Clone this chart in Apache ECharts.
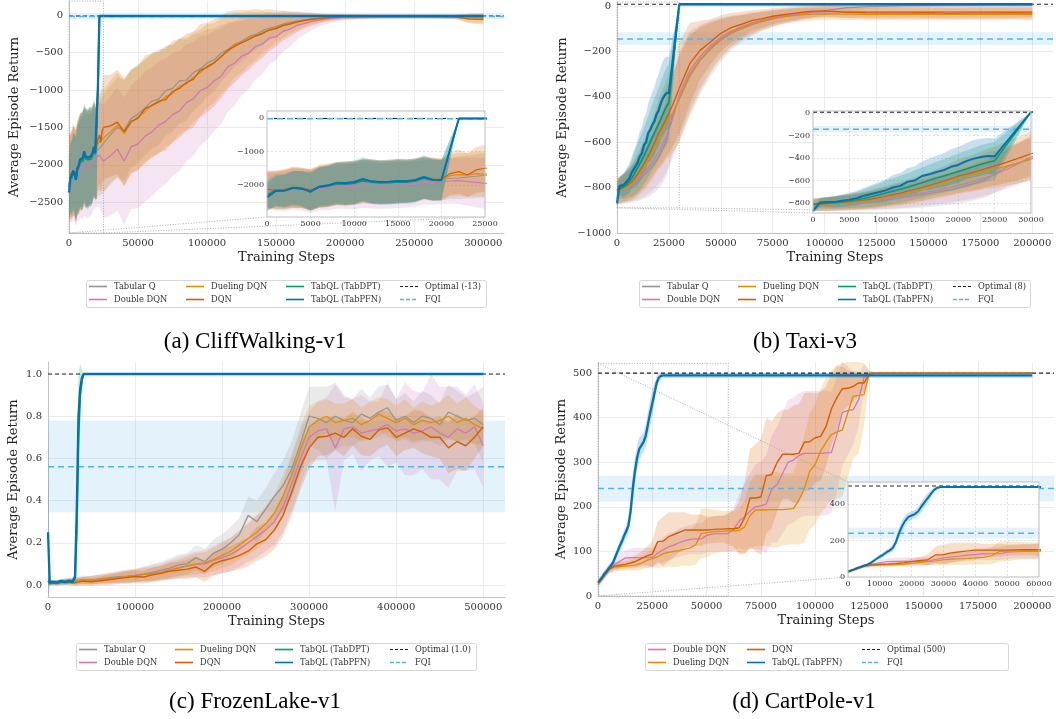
<!DOCTYPE html>
<html><head><meta charset="utf-8">
<script src="https://cdn.jsdelivr.net/npm/echarts@6.0.0/dist/echarts.min.js"></script>
<style>html,body{margin:0;padding:0;background:#fff}#c{width:1056px;height:719px}</style>
</head><body><div id="c"></div>
<script>
// ================= DATA =================
// ---- (a) CliffWalking-v1 ----
const A_X = [0,1000,2000,3000,4000,5000,6000,7000,8000,9000,10000,11000,12000,13000,14000,15000,16000,17000,18000,19000,20000,21000,22000,23000,24000,25000,30000,35000,40000,45000,50000,55000,60000,65000,70000,75000,80000,85000,90000,95000,100000,105000,110000,115000,120000,125000,130000,135000,140000,145000,150000,155000,160000,165000,170000,175000,180000,185000,190000,195000,200000,210000,220000,230000,240000,250000,260000,270000,280000,290000,300000];
const A_TABQ = [-2150,-2160,-2140,-2090,-2100,-2150,-2060,-2040,-1980,-1960,-1950,-1900,-1920,-1940,-1930,-1910,-1900,-1880,-1800,-1830,-1850,-1800,-1790,-1760,-1740,-1710,-1600,-1500,-1540,-1380,-1320,-1240,-1150,-1120,-1010,-980,-880,-870,-770,-720,-640,-600,-510,-460,-390,-350,-290,-260,-210,-180,-150,-120,-100,-80,-66,-52,-42,-35,-30,-26,-22,-20,-19,-20,-18,-20,-19,-20,-21,-20,-30];
const A_TABQ_SD = [520,540,560,580,590,600,610,620,630,640,640,650,650,640,650,640,640,630,620,620,610,620,630,640,650,660,660,670,680,660,650,640,630,620,600,580,560,540,510,480,450,420,380,340,300,270,240,210,180,150,130,110,90,75,60,50,42,36,32,28,25,22,20,20,19,20,21,20,22,40,50];
const A_DDQN = [-2160,-2180,-2170,-2120,-2140,-2180,-2100,-2090,-2050,-2040,-2040,-2000,-2010,-2030,-2020,-2000,-1990,-1970,-1920,-1920,-1900,-1880,-1870,-1900,-1920,-1950,-1880,-1790,-1950,-1760,-1720,-1620,-1560,-1470,-1420,-1330,-1280,-1170,-1120,-1010,-970,-880,-820,-690,-640,-550,-510,-420,-390,-310,-290,-220,-190,-140,-115,-88,-72,-55,-44,-34,-28,-22,-20,-21,-19,-20,-20,-21,-20,-25,-28];
const A_DDQN_SD = [560,580,600,620,620,640,650,660,660,670,680,680,690,680,690,680,680,670,660,670,660,680,700,720,740,760,800,820,850,830,860,870,860,850,840,820,800,780,760,730,700,670,640,600,560,520,480,440,400,350,310,270,230,190,150,120,95,75,60,48,40,32,28,26,25,25,24,25,26,35,40];
const A_DUEL = [-2140,-2150,-2120,-2080,-2090,-2160,-2050,-2020,-1960,-1950,-1940,-1880,-1900,-1920,-1910,-1890,-1880,-1860,-1780,-1820,-1840,-1720,-1690,-1700,-1660,-1680,-1560,-1470,-1580,-1430,-1360,-1290,-1200,-1170,-1090,-1050,-950,-920,-830,-770,-680,-640,-550,-490,-400,-370,-310,-280,-230,-205,-165,-140,-108,-92,-70,-56,-45,-38,-30,-26,-23,-20,-21,-19,-20,-18,-20,-21,-22,-40,-42];
const A_DUEL_SD = [540,560,580,600,600,620,630,640,640,650,650,650,660,650,650,650,640,640,630,630,620,630,640,660,670,680,690,700,710,690,700,700,690,680,670,660,640,620,600,580,560,530,500,470,430,400,360,320,280,240,200,170,140,115,90,72,58,48,40,34,30,28,26,25,24,25,24,25,27,60,70];
const A_DQN = [-2130,-2150,-2130,-2070,-2080,-2150,-2040,-2010,-1950,-1960,-1930,-1870,-1890,-1910,-1900,-1880,-1870,-1850,-1790,-1820,-1830,-1660,-1600,-1700,-1550,-1500,-1480,-1430,-1560,-1420,-1380,-1250,-1210,-1150,-1130,-1020,-980,-900,-860,-740,-700,-640,-560,-470,-420,-370,-330,-280,-250,-200,-180,-140,-120,-95,-75,-60,-50,-40,-32,-28,-24,-22,-20,-18,-20,-19,-21,-20,-25,-55,-58];
const A_DQN_SD = [550,580,600,620,600,620,640,650,640,660,650,640,660,650,640,650,640,630,620,640,620,640,660,650,680,700,680,700,720,690,700,710,700,690,680,680,660,650,640,620,600,580,550,520,480,440,400,360,320,280,240,200,170,140,110,90,70,55,45,40,35,30,28,26,25,25,24,25,28,60,70];
const A_TQL_X = [0,1000,2000,3000,4000,5000,6000,7000,8000,9000,10000,11000,12000,13000,14000,15000,16000,17000,18000,19000,20000,21000,22000,23000,24000,25000,300000];
const A_DPT = [-2300,-2150,-2180,-2100,-2120,-2180,-2070,-2040,-1960,-1980,-1950,-1870,-1920,-1940,-1930,-1910,-1920,-1880,-1800,-1860,-1870,-940,-13,-13,-13,-13,-13];
const A_DPT_SD = [450,480,500,520,540,570,590,600,620,630,640,640,650,650,650,650,640,640,630,620,600,300,0,0,0,0,0];
const A_PFN = [-2370,-2180,-2170,-2080,-2110,-2200,-2050,-2010,-1930,-1940,-1910,-1820,-1890,-1910,-1900,-1880,-1890,-1850,-1760,-1840,-1850,-930,-13,-13,-13,-13,-13];
const A_PFN_SD = [420,450,480,500,520,560,580,600,620,640,640,650,650,650,660,660,650,650,640,620,600,300,0,0,0,0,0];
const A_OPT = -13;
const A_FQI = [-20, -55, 30]; // mean, low, high

// ---- (b) Taxi-v3 ----
const B_X = [0,1000,2000,3000,4000,5000,6000,7000,8000,9000,10000,11000,12000,13000,14000,15000,16000,17000,18000,19000,20000,21000,22000,23000,24000,25000,26000,27000,28000,29000,30000,35000,40000,45000,50000,55000,60000,65000,70000,75000,80000,85000,90000,95000,100000,110000,120000,130000,140000,150000,160000,170000,180000,190000,200000];
const B_TABQ = [-822,-818,-814,-810,-806,-801,-796,-790,-784,-777,-770,-762,-754,-745,-736,-726,-716,-704,-692,-680,-664,-648,-630,-610,-585,-540,-505,-470,-450,-430,-410,-310,-240,-190,-150,-120,-100,-82,-68,-56,-46,-38,-32,-27,-20,-8,-2,0,2,3,4,4,5,5,5];
const B_TABQ_SD = [50,55,60,62,65,68,70,75,80,85,90,95,100,105,110,115,120,125,130,135,140,145,150,155,160,165,170,175,180,185,190,180,150,120,95,75,60,50,42,36,32,28,25,22,20,16,12,10,8,8,7,7,6,6,6];
const B_DDQN = [-815,-812,-808,-804,-800,-795,-790,-784,-778,-770,-762,-753,-744,-734,-724,-712,-700,-688,-674,-660,-645,-628,-610,-590,-570,-548,-520,-490,-460,-425,-390,-285,-222,-175,-138,-110,-90,-74,-62,-52,-44,-38,-32,-28,-25,-24,-24,-25,-24,-25,-25,-24,-25,-25,-24];
const B_DDQN_SD = [55,58,60,62,65,68,72,76,80,85,90,95,100,105,110,115,120,125,130,135,140,145,150,155,160,165,170,175,180,185,190,175,140,110,85,68,55,46,40,35,32,30,28,27,26,26,26,25,25,26,25,26,25,26,25];
const B_DUEL = [-818,-813,-810,-806,-800,-794,-788,-782,-772,-760,-748,-735,-722,-708,-692,-672,-656,-640,-620,-600,-580,-565,-548,-530,-512,-500,-485,-468,-448,-428,-405,-300,-235,-185,-145,-115,-95,-78,-66,-55,-48,-42,-38,-35,-34,-35,-36,-35,-36,-35,-36,-35,-36,-35,-36];
const B_DUEL_SD = [55,58,60,62,65,68,72,76,80,85,90,95,100,105,110,115,120,125,130,135,140,145,150,155,160,165,170,175,180,185,190,175,140,110,85,68,55,46,40,35,32,30,28,27,26,26,26,26,26,26,26,26,26,26,26];
const B_DQN = [-815,-810,-806,-800,-795,-790,-782,-775,-765,-752,-740,-725,-712,-696,-680,-662,-644,-624,-604,-584,-560,-545,-528,-510,-490,-470,-452,-430,-408,-385,-362,-255,-195,-158,-120,-95,-80,-64,-55,-45,-38,-32,-26,-22,-21,-27,-29,-30,-30,-29,-31,-30,-30,-29,-30];
const B_DQN_SD = [55,58,60,62,65,68,72,76,80,85,90,95,100,105,110,115,120,125,130,140,150,155,160,165,170,175,180,185,190,195,200,180,130,100,80,65,55,46,40,35,32,30,28,27,26,26,26,26,26,26,26,26,26,26,26];
const B_TQL_X = [0,1000,2000,3000,4000,5000,6000,7000,8000,9000,10000,11000,12000,13000,14000,15000,16000,17000,18000,19000,20000,21000,22000,23000,24000,25000,30000,200000];
const B_DPT = [-810,-805,-800,-795,-790,-780,-772,-760,-745,-728,-712,-695,-678,-660,-640,-620,-598,-578,-560,-540,-520,-500,-478,-458,-440,-425,8,8];
const B_DPT_SD = [40,45,50,55,60,65,70,80,90,100,110,115,120,125,130,135,140,145,150,155,160,165,165,170,170,170,0,0];
const B_PFN = [-870,-795,-790,-790,-780,-770,-758,-735,-720,-705,-688,-662,-648,-612,-600,-560,-545,-524,-508,-478,-462,-430,-408,-393,-382,-385,8,8];
const B_PFN_SD = [30,40,45,50,55,60,65,70,80,90,100,110,115,120,125,130,140,145,150,155,160,160,165,165,160,160,0,0];
const B_OPT = 8;
const B_FQI = [-145, -172, -115];

// ---- (c) FrozenLake-v1 ----
const C_X = [0,10000,20000,30000,40000,50000,60000,70000,80000,90000,100000,110000,120000,130000,140000,150000,160000,170000,180000,190000,200000,210000,220000,230000,240000,250000,260000,270000,280000,290000,300000,310000,320000,330000,340000,350000,360000,370000,380000,390000,400000,410000,420000,430000,440000,450000,460000,470000,480000,490000,500000];
const C_TABQ = [0.012,0.010,0.018,0.020,0.025,0.022,0.030,0.035,0.040,0.042,0.045,0.052,0.060,0.070,0.080,0.095,0.100,0.130,0.110,0.150,0.170,0.200,0.240,0.330,0.300,0.360,0.420,0.470,0.550,0.670,0.800,0.790,0.770,0.800,0.780,0.770,0.810,0.790,0.820,0.840,0.780,0.800,0.770,0.800,0.790,0.760,0.820,0.800,0.780,0.790,0.760];
const C_TABQ_SD = [0.010,0.012,0.015,0.015,0.020,0.020,0.022,0.025,0.028,0.030,0.030,0.035,0.040,0.040,0.045,0.050,0.050,0.060,0.060,0.065,0.070,0.075,0.080,0.090,0.100,0.100,0.110,0.120,0.130,0.140,0.140,0.150,0.170,0.160,0.120,0.110,0.120,0.100,0.120,0.110,0.100,0.110,0.100,0.120,0.110,0.100,0.130,0.120,0.110,0.120,0.180];
const C_DDQN = [0.010,0.010,0.014,0.018,0.020,0.025,0.025,0.030,0.034,0.040,0.045,0.050,0.055,0.062,0.072,0.082,0.090,0.098,0.100,0.115,0.130,0.145,0.170,0.200,0.230,0.260,0.300,0.370,0.480,0.600,0.700,0.730,0.740,0.650,0.740,0.750,0.720,0.730,0.740,0.760,0.730,0.740,0.720,0.730,0.750,0.720,0.700,0.740,0.720,0.750,0.660];
const C_DDQN_SD = [0.010,0.012,0.014,0.016,0.018,0.020,0.022,0.024,0.026,0.030,0.032,0.035,0.038,0.040,0.045,0.050,0.055,0.060,0.065,0.070,0.075,0.080,0.085,0.090,0.100,0.100,0.110,0.120,0.130,0.130,0.120,0.140,0.150,0.300,0.150,0.130,0.180,0.140,0.130,0.200,0.150,0.220,0.200,0.180,0.250,0.220,0.240,0.200,0.180,0.200,0.200];
const C_DUEL = [0.010,0.012,0.015,0.018,0.020,0.022,0.028,0.030,0.035,0.040,0.042,0.050,0.052,0.060,0.070,0.080,0.090,0.100,0.105,0.120,0.140,0.160,0.190,0.220,0.250,0.290,0.340,0.420,0.520,0.640,0.750,0.780,0.800,0.770,0.780,0.790,0.760,0.780,0.810,0.790,0.770,0.790,0.760,0.780,0.770,0.780,0.800,0.770,0.790,0.760,0.740];
const C_DUEL_SD = [0.010,0.010,0.012,0.015,0.018,0.020,0.020,0.022,0.025,0.028,0.030,0.030,0.032,0.035,0.040,0.040,0.045,0.050,0.050,0.055,0.060,0.065,0.070,0.075,0.080,0.085,0.090,0.100,0.100,0.110,0.100,0.090,0.080,0.090,0.080,0.090,0.080,0.090,0.080,0.090,0.080,0.090,0.080,0.090,0.080,0.090,0.100,0.090,0.100,0.090,0.080];
const C_DQN = [0.010,0.008,0.015,0.010,0.018,0.015,0.020,0.025,0.030,0.035,0.040,0.038,0.048,0.055,0.065,0.070,0.075,0.085,0.065,0.100,0.115,0.125,0.140,0.160,0.195,0.215,0.260,0.330,0.440,0.560,0.650,0.700,0.705,0.720,0.700,0.740,0.705,0.690,0.735,0.745,0.700,0.720,0.740,0.725,0.700,0.700,0.650,0.680,0.660,0.700,0.750];
const C_DQN_SD = [0.010,0.010,0.015,0.015,0.020,0.020,0.020,0.025,0.025,0.030,0.030,0.030,0.035,0.035,0.040,0.040,0.045,0.050,0.050,0.055,0.060,0.060,0.065,0.070,0.080,0.080,0.090,0.100,0.110,0.110,0.100,0.090,0.090,0.080,0.090,0.080,0.090,0.080,0.090,0.080,0.090,0.080,0.090,0.100,0.090,0.100,0.120,0.130,0.120,0.100,0.090];
const C_TQL_X = [0,2000,5000,10000,15000,20000,25000,28000,30000,31000,33000,35000,37000,39000,41000,500000];
const C_DPT = [0.02,0.01,0.012,0.01,0.015,0.012,0.018,0.012,0.015,0.03,0.25,0.70,0.90,0.97,1.0,1.0];
const C_DPT_SD = [0.02,0.01,0.01,0.01,0.012,0.01,0.012,0.01,0.012,0.03,0.25,0.3,0.15,0.05,0,0];
const C_PFN = [0.25,0.01,0.015,0.012,0.018,0.015,0.02,0.015,0.02,0.04,0.35,0.80,0.93,0.98,1.0,1.0];
const C_PFN_SD = [0.5,0.02,0.01,0.01,0.01,0.01,0.012,0.01,0.01,0.02,0.15,0.1,0.05,0.02,0,0];
const C_OPT = 1.0;
const C_FQI = [0.56, 0.345, 0.78];

// ---- (d) CartPole-v1 ----
const D_X = [0,2500,5000,7500,10000,12500,15000,17500,20000,22500,25000,27500,30000,32500,35000,37500,40000,42500,45000,47500,50000,52500,55000,57500,60000,62500,65000,67500,70000,72500,75000,77500,80000,82500,85000,87500,90000,92500,95000,97500,100000,102500,105000,107500,110000,112500,115000,117500,120000,122500,125000,127500,130000,140000,150000,160000,170000,180000,190000,200000];
const D_DDQN = [28,46,60,70,78,85,86,86,86,86,87,96,104,110,114,120,124,127,128,128,136,139,140,140,140,150,168,178,190,200,202,206,240,250,275,300,305,315,320,320,320,320,321,322,362,412,416,418,440,490,500,500,500,500,500,500,500,500,500,500];
const D_DDQN_SD = [8,9,10,12,15,18,20,22,22,22,22,25,28,30,30,32,32,33,35,35,38,38,40,40,42,50,60,75,85,95,100,110,120,130,135,140,140,140,140,140,140,140,140,135,130,120,100,80,60,30,5,2,1,0,0,0,0,0,0,0];
const D_DUEL = [25,42,58,65,66,67,68,70,74,80,84,88,95,98,100,102,105,108,115,140,142,144,145,145,146,146,147,155,180,193,193,193,194,194,194,195,196,215,240,280,295,325,345,362,368,372,410,448,450,452,500,500,500,500,500,500,500,500,500,500];
const D_DUEL_SD = [8,8,8,9,10,10,12,13,15,17,20,25,30,32,35,35,38,40,45,55,55,50,48,45,45,45,50,60,75,80,80,80,85,85,80,80,80,100,120,130,135,140,145,145,150,150,145,140,130,70,5,2,1,0,0,0,0,0,0,0];
const D_DQN = [30,45,60,67,69,71,74,78,84,90,94,122,123,133,138,143,148,148,148,148,148,149,150,150,151,151,153,175,220,220,222,270,272,300,318,318,318,320,345,346,355,358,380,420,445,465,466,470,478,478,498,500,500,500,500,500,500,500,500,500];
const D_DQN_SD = [8,8,8,8,9,10,12,14,16,20,30,45,55,55,50,45,40,35,35,35,30,30,30,30,35,40,60,80,110,120,130,130,120,110,100,100,110,110,110,110,100,100,90,80,70,50,40,35,25,20,5,2,1,0,0,0,0,0,0,0];
const D_PFN_X = [0,1000,2000,3000,4000,5000,6000,7000,8000,9000,10000,11000,12000,13000,14000,15000,16000,17000,18000,19000,20000,21000,22000,23000,24000,25000,26000,27000,28000,29000,30000,200000];
const D_PFN = [30,36,42,50,55,62,68,76,88,100,112,122,135,145,158,190,240,280,310,330,338,346,360,385,410,432,455,478,490,494,495,495];
const D_PFN_SD = [5,5,6,6,7,8,8,9,10,10,12,12,14,15,18,22,30,30,28,25,22,22,25,28,30,28,22,15,10,8,6,6];
const D_OPT = 500;
const D_FQI = [241, 212, 270];

// ---- text ----
const Y_TITLE = 'Average Episode Return';
const X_TITLE = 'Training Steps';
const CAPTIONS = ['(a) CliffWalking-v1', '(b) Taxi-v3', '(c) FrozenLake-v1', '(d) CartPole-v1'];
const LEG_A = [['tabq','Tabular Q'],['ddqn','Double DQN'],['duel','Dueling DQN'],['dqn','DQN'],['dpt','TabQL (TabDPT)'],['pfn','TabQL (TabPFN)'],['opt','Optimal (-13)'],['fqi','FQI']];
const LEG_B = [['tabq','Tabular Q'],['ddqn','Double DQN'],['duel','Dueling DQN'],['dqn','DQN'],['dpt','TabQL (TabDPT)'],['pfn','TabQL (TabPFN)'],['opt','Optimal (8)'],['fqi','FQI']];
const LEG_C = [['tabq','Tabular Q'],['ddqn','Double DQN'],['duel','Dueling DQN'],['dqn','DQN'],['dpt','TabQL (TabDPT)'],['pfn','TabQL (TabPFN)'],['opt','Optimal (1.0)'],['fqi','FQI']];
const LEG_D = [['ddqn','Double DQN'],['duel','Dueling DQN'],['dqn','DQN'],['pfn','TabQL (TabPFN)'],['opt','Optimal (500)'],['fqi','FQI']];

// ================= STYLE / LAYOUT =================
const FONT = "'DejaVu Serif', serif";
const CAPFONT = "'Liberation Serif', 'Times New Roman', serif";
const COLOR = {tabq:'#949494', ddqn:'#cc78bc', duel:'#de8f05', dqn:'#d55e00', dpt:'#029e73', pfn:'#0173b2', opt:'#222222', fqi:'#56b4e9'};
const LW = {tabq:1.3, ddqn:1.3, duel:1.3, dqn:1.4, dpt:1.8, pfn:2.3};

// plot rectangles: [left, top, width, height], axis ranges [min,max,interval]
const GRIDS = [
  {rect:[69,1,435,232],  x:[0,315000,50000], y:[-2910,187,500], yname:48},
  {rect:[267,111,218,106], x:[0,25000,5000], y:[-2955,209,1000], inset:true},
  {rect:[617,2,436,231], x:[0,210000,25000], y:[-1000,18,200], yname:48},
  {rect:[813,111,218,102], x:[0,30000,5000], y:[-889,18,200], inset:true},
  {rect:[48,362,457,235], x:[0,525000,100000], y:[-0.057,1.057,0.2], dec:1, yname:28},
  {rect:[598,362,456,234], x:[0,210000,25000], y:[0,525,100], yname:30},
  {rect:[848,482,191,95], x:[0,60000,10000], y:[0,522,200], inset:true},
];

const PANELS = [
  {main:0, inset:1, conn:['LL','LR'], opt:A_OPT, fqi:A_FQI, series:[
    ['tabq',A_X,A_TABQ,A_TABQ_SD],['ddqn',A_X,A_DDQN,A_DDQN_SD],['duel',A_X,A_DUEL,A_DUEL_SD],['dqn',A_X,A_DQN,A_DQN_SD],['dpt',A_TQL_X,A_DPT,A_DPT_SD],['pfn',A_TQL_X,A_PFN,A_PFN_SD]],
    legend:LEG_A, legBox:[86,280,400,27], legCols:[3,100,200,314], caption:[255,342]},
  {main:2, inset:3, conn:['LL','LR'], opt:B_OPT, fqi:B_FQI, series:[
    ['tabq',B_X,B_TABQ,B_TABQ_SD],['ddqn',B_X,B_DDQN,B_DDQN_SD],['duel',B_X,B_DUEL,B_DUEL_SD],['dqn',B_X,B_DQN,B_DQN_SD],['dpt',B_TQL_X,B_DPT,B_DPT_SD],['pfn',B_TQL_X,B_PFN,B_PFN_SD]],
    legend:LEG_B, legBox:[639,280,391,27], legCols:[3,99,199,314], caption:[805,342]},
  {main:4, inset:null, opt:C_OPT, fqi:C_FQI, series:[
    ['tabq',C_X,C_TABQ,C_TABQ_SD],['ddqn',C_X,C_DDQN,C_DDQN_SD],['duel',C_X,C_DUEL,C_DUEL_SD],['dqn',C_X,C_DQN,C_DQN_SD],['dpt',C_TQL_X,C_DPT,C_DPT_SD],['pfn',C_TQL_X,C_PFN,C_PFN_SD]],
    legend:LEG_C, legBox:[76,643,400,27], legCols:[3,99,199,314], caption:[255,702]},
  {main:5, inset:6, conn:['UL','LL'], opt:D_OPT, fqi:D_FQI, series:[
    ['ddqn',D_X,D_DDQN,D_DDQN_SD],['duel',D_X,D_DUEL,D_DUEL_SD],['dqn',D_X,D_DQN,D_DQN_SD],['pfn',D_PFN_X,D_PFN,D_PFN_SD]],
    legend:LEG_D, legBox:[645,643,363,27], legCols:[3,102,217,320], caption:[804,702]},
];

// ================= BUILD =================
function rgba(hex, a){ const n=parseInt(hex.slice(1),16); return 'rgba('+((n>>16)&255)+','+((n>>8)&255)+','+(n&255)+','+a+')'; }
function fmt(interval, dec){
  return function(v){ const k=v/interval; if (Math.abs(k-Math.round(k))>1e-6) return ''; const s = dec ? v.toFixed(dec) : String(Math.round(v)); return s.replace('-', '\u2212'); };
}
const grids=[], xAxes=[], yAxes=[], series=[];
GRIDS.forEach((g,i)=>{
  const ins=!!g.inset;
  grids.push({left:g.rect[0], top:g.rect[1], width:g.rect[2], height:g.rect[3], containLabel:false, outerBoundsMode:'none', show:false});
  const split={show:true, showMinLine:false, showMaxLine:false, lineStyle:{color: ins?'#dcdcdc':'#ebebeb', width: ins?0.8:1, type: ins?[2,2]:'solid'}};
  const common={type:'value', gridIndex:i, z: ins?7:0, silent:true, axisTick:{show:false},
    axisLine:{show:!ins, onZero:false, lineStyle:{color:'#c4c4c4', width:1}}, splitLine:split};
  xAxes.push(Object.assign({}, common, {min:g.x[0], max:g.x[1], minInterval:g.x[2], maxInterval:g.x[2], splitNumber:6,
    axisLabel:{fontFamily:FONT, fontSize: ins?8:10, color:'#333', margin: ins?3:5, formatter:fmt(g.x[2],0)},
    name: ins?'':X_TITLE, nameLocation:'middle', nameGap:18, nameTextStyle:{fontFamily:FONT, fontSize:13, color:'#222'}}));
  yAxes.push(Object.assign({}, common, {min:g.y[0], max:g.y[1], minInterval:g.y[2], maxInterval:g.y[2], splitNumber:6,
    axisLabel:{fontFamily:FONT, fontSize: ins?8:10, color:'#333', margin: ins?3:6, formatter:fmt(g.y[2], g.dec||0)},
    name: ins?'':Y_TITLE, nameLocation:'middle', nameGap:g.yname||40, nameTextStyle:{fontFamily:FONT, fontSize:13, color:'#222'}}));
});

function bandSeries(gi, xs, lo, hi, color, alpha, z){
  const g=GRIDS[gi]; const idx=[];
  xs.forEach((x,j)=>{ if (x>=g.x[0]-1e-9 && x<=g.x[1]+1e-9) idx.push(j); });
  const cl=v=>Math.max(g.y[0], Math.min(g.y[1], v));
  return {type:'custom', xAxisIndex:gi, yAxisIndex:gi, z:z, silent:true, animation:false, clip:true,
    data:[[xs[idx[0]], cl((lo[idx[0]]+hi[idx[0]])/2)]],
    renderItem:function(params, api){
      const pts=[];
      idx.forEach(j=>pts.push(api.coord([xs[j], cl(hi[j])])));
      for (let m=idx.length-1;m>=0;m--){ const j=idx[m]; pts.push(api.coord([xs[j], cl(lo[j])])); }
      return {type:'polygon', shape:{points:pts}, style:{fill:rgba(color,alpha)}, silent:true};
    }};
}
function lineSeries(gi, xs, ys, color, width, type, z){
  return {type:'line', xAxisIndex:gi, yAxisIndex:gi, data:xs.map((x,i)=>[x,ys[i]]), showSymbol:false, symbol:'none',
    z:z, silent:true, animation:false, clip:true, lineStyle:{color:color, width:width, type:type}, itemStyle:{color:color}};
}
PANELS.forEach(P=>{
  [P.main, P.inset].forEach((gi,k)=>{
    if (gi==null) return;
    const g=GRIDS[gi], ins=k===1, zb=ins?8:1;
    series.push(bandSeries(gi, [g.x[0],g.x[1]], [P.fqi[1],P.fqi[1]], [P.fqi[2],P.fqi[2]], COLOR.fqi, 0.16, zb));
    P.series.forEach(([key,xs,ys,sd])=>{
      series.push(bandSeries(gi, xs, ys.map((v,j)=>v-sd[j]), ys.map((v,j)=>v+sd[j]), COLOR[key], (key==='pfn'||key==='dpt')?0.22:0.2, zb));
    });
    series.push(lineSeries(gi, [g.x[0],g.x[1]], [P.opt,P.opt], COLOR.opt, 1.1, [4,3], zb+1));
    series.push(lineSeries(gi, [g.x[0],g.x[1]], [P.fqi[0],P.fqi[0]], COLOR.fqi, 1.5, [6,4], zb+1));
    P.series.forEach(([key,xs,ys])=>series.push(lineSeries(gi, xs, ys, COLOR[key], ins?LW[key]*0.85:LW[key], 'solid', zb+2)));
  });
});

const chart = echarts.init(document.getElementById('c'), null, {renderer:'canvas', width:1056, height:719});
chart.setOption({animation:false, backgroundColor:'#fff', textStyle:{fontFamily:FONT},
  grid:grids, xAxis:xAxes, yAxis:yAxes, series:series});

// ---- graphics: inset frames, zoom marks, legends, captions ----
const gfx=[];
function px(gi,x,y){ return chart.convertToPixel({gridIndex:gi},[x,y]); }
const dotted={stroke:'#9a9a9a', lineWidth:0.8, lineDash:[1,1.6]};
PANELS.forEach(P=>{
  if (P.inset!=null){
    const M=GRIDS[P.main], I=GRIDS[P.inset];
    const ry0=Math.max(I.y[0],M.y[0]), ry1=Math.min(I.y[1],M.y[1]);
    const LL=px(P.main,I.x[0],ry0), UR=px(P.main,I.x[1],ry1);
    const r={LL:LL, UR:UR, UL:[LL[0],UR[1]], LR:[UR[0],LL[1]]};
    const iLL=px(P.inset,I.x[0],I.y[0]), iUR=px(P.inset,I.x[1],I.y[1]);
    const q={LL:iLL, UR:iUR, UL:[iLL[0],iUR[1]], LR:[iUR[0],iLL[1]]};
    gfx.push({type:'rect', z:5, silent:true, shape:{x:r.UL[0], y:r.UL[1], width:r.UR[0]-r.UL[0], height:r.LL[1]-r.UL[1]}, style:Object.assign({fill:'transparent'},dotted)});
    P.conn.forEach(c=>gfx.push({type:'line', z:5, silent:true, shape:{x1:r[c][0], y1:r[c][1], x2:q[c][0], y2:q[c][1]}, style:dotted}));
    gfx.push({type:'rect', z:6, silent:true, shape:{x:q.UL[0], y:q.UL[1], width:q.UR[0]-q.UL[0], height:q.LL[1]-q.UL[1]}, style:{fill:'#ffffff'}});
    gfx.push({type:'rect', z:20, silent:true, shape:{x:q.UL[0], y:q.UL[1], width:q.UR[0]-q.UL[0], height:q.LL[1]-q.UL[1]}, style:{fill:'transparent', stroke:'#bdbdbd', lineWidth:1}});
  }
  const b=P.legBox;
  gfx.push({type:'rect', z:30, silent:true, shape:{x:b[0]+0.5, y:b[1]+0.5, width:b[2], height:b[3], r:2}, style:{fill:'#ffffff', stroke:'#d6d6d6', lineWidth:1}});
  P.legend.forEach(([key,label],n)=>{
    const col=Math.floor(n/2), row=n%2;
    const x=b[0]+P.legCols[col], y=b[1]+6.5+row*13;
    const st = key==='opt' ? {stroke:COLOR.opt, lineWidth:1.1, lineDash:[3,2]} : key==='fqi' ? {stroke:COLOR.fqi, lineWidth:1.4, lineDash:[4,2]} : {stroke:COLOR[key], lineWidth:1.6};
    gfx.push({type:'line', z:31, silent:true, shape:{x1:x, y1:y, x2:x+18, y2:y}, style:st});
    gfx.push({type:'text', z:31, silent:true, x:x+25, y:y, style:{text:label, fontFamily:FONT, fontSize:8.3, fill:'#333', align:'left', verticalAlign:'middle', textAlign:'left', textVerticalAlign:'middle'}});
  });
});
PANELS.forEach((P,i)=>{
  gfx.push({type:'text', z:31, silent:true, x:P.caption[0], y:P.caption[1], style:{text:CAPTIONS[i], fontFamily:CAPFONT, fontSize:23, fill:'#000', align:'center', verticalAlign:'middle', textAlign:'center', textVerticalAlign:'middle'}});
});
chart.setOption({graphic:gfx});
</script></body></html>
